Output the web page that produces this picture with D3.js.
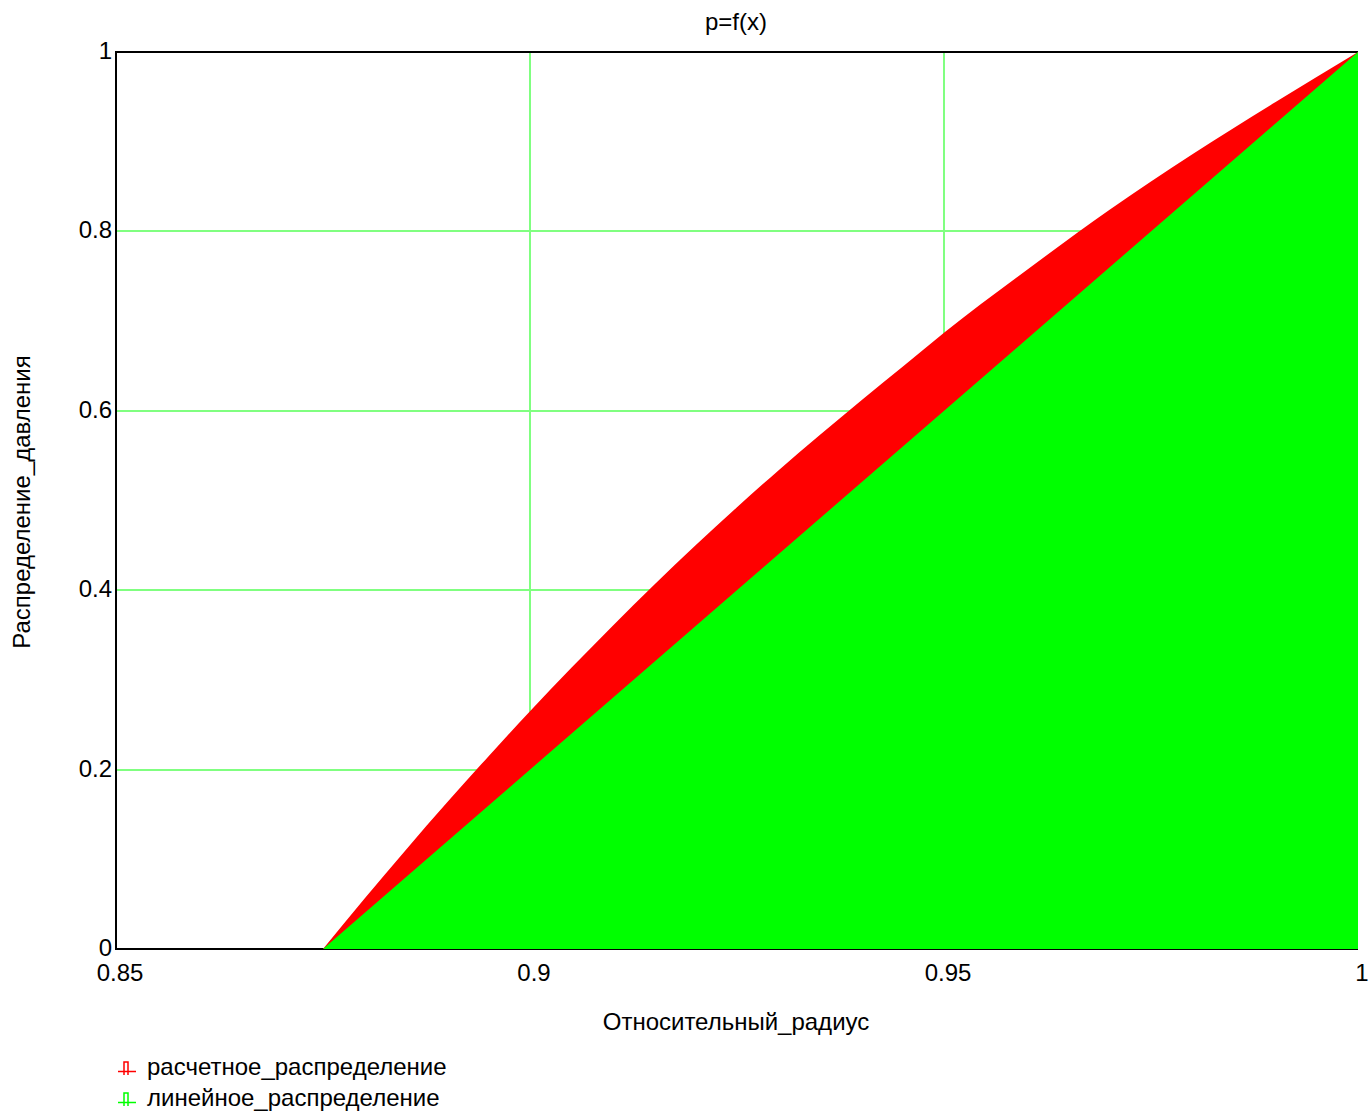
<!DOCTYPE html>
<html><head><meta charset="utf-8">
<script src="https://cdn.jsdelivr.net/npm/d3@7"></script>
<style>
body{margin:0;background:#fff;}
text{font-family:"Liberation Sans",Arial,sans-serif;fill:#000;}
</style></head>
<body><svg id="c" width="1369" height="1111"></svg>
<script>
// Data
const calcX = [0.875, 0.88, 0.885, 0.89, 0.895, 0.9, 0.905, 0.91, 0.915, 0.92, 0.925, 0.93, 0.935, 0.94, 0.945, 0.95, 0.96, 0.97, 0.98, 0.99, 1.0];
const calcP = [0, 0.056, 0.1105, 0.1635, 0.215, 0.265, 0.3135, 0.3605, 0.406, 0.45, 0.4925, 0.5335, 0.573, 0.6115, 0.649, 0.687, 0.757, 0.824, 0.886, 0.944, 1.0];
const linX = [0.875, 1.0];
const linP = [0, 1.0];
const xTicks = [0.85, 0.9, 0.95, 1];
const yTicks = [0, 0.2, 0.4, 0.6, 0.8, 1];
const xTickLabels = ["0.85", "0.9", "0.95", "1"];
const yTickLabels = ["0", "0.2", "0.4", "0.6", "0.8", "1"];
const seriesNames = ["расчетное_распределение", "линейное_распределение"];
const seriesColors = ["#ff0000", "#00ff00"];
const titleText = "p=f(x)";
const xTitle = "Относительный_радиус";
const yTitle = "Распределение_давления";

const svg = d3.select("#c");
const L = 116, R = 1358, T = 52, B = 949;
const x = d3.scaleLinear().domain([0.85, 1]).range([L, R]);
const y = d3.scaleLinear().domain([0, 1]).range([B, T]);
const fs = 24;

// grid
const g = svg.append("g");
g.selectAll("line.gx").data(xTicks.slice(1, -1)).join("line")
  .attr("x1", d => Math.round(x(d))).attr("x2", d => Math.round(x(d)))
  .attr("y1", T).attr("y2", B).attr("stroke", "#80ff80").attr("stroke-width", 2);
g.selectAll("line.gy").data(yTicks.slice(1, -1)).join("line")
  .attr("y1", d => Math.round(y(d))).attr("y2", d => Math.round(y(d)))
  .attr("x1", L).attr("x2", R).attr("stroke", "#80ff80").attr("stroke-width", 2);

// frame lines (left, top, bottom)
svg.append("path").attr("d", `M${R},${T}H${L}V${B}H${R}`)
  .attr("fill", "none").attr("stroke", "#000").attr("stroke-width", 2);

// areas
const areaCalc = d3.area().x((d, i) => x(calcX[i])).y0(y(0)).y1(d => y(d)).curve(d3.curveMonotoneX);
const areaLin = d3.area().x((d, i) => x(linX[i])).y0(y(0)).y1(d => y(d));
svg.append("path").attr("d", areaCalc(calcP)).attr("fill", seriesColors[0]);
svg.append("path").attr("d", areaLin(linP)).attr("fill", seriesColors[1]);

// tick labels
svg.selectAll("text.xt").data(xTicks).join("text")
  .attr("x", d => x(d) + 4).attr("y", 981).attr("text-anchor", "middle")
  .attr("font-size", fs).text((d, i) => xTickLabels[i]);
svg.selectAll("text.yt").data(yTicks).join("text")
  .attr("x", 112).attr("y", d => y(d) + 7).attr("text-anchor", "end")
  .attr("font-size", fs).text((d, i) => yTickLabels[i]);

// titles
svg.append("text").attr("x", 736).attr("y", 30).attr("text-anchor", "middle").attr("font-size", fs).text(titleText);
svg.append("text").attr("x", 736).attr("y", 1030).attr("text-anchor", "middle").attr("font-size", fs).text(xTitle);
svg.append("text").attr("transform", "translate(30,502) rotate(-90)").attr("text-anchor", "middle").attr("font-size", fs).text(yTitle);

// legend
const leg = svg.selectAll("g.leg").data(seriesNames).join("g")
  .attr("transform", (d, i) => `translate(118,${1067 + i * 31})`);
leg.append("path").attr("d", "M0,4.5H18M6,8V-5H10V8")
  .attr("fill", "none").attr("stroke", (d, i) => seriesColors[i]).attr("stroke-width", 1.5);
leg.append("text").attr("x", 29).attr("y", 8).attr("font-size", fs).text(d => d);
</script></body></html>
